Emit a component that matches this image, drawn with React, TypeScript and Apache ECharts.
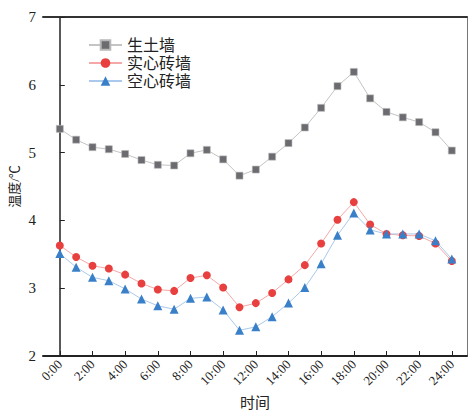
import React, { useEffect, useRef } from "react";
import * as echarts from "echarts";

const hours = [0, 1, 2, 3, 4, 5, 6, 7, 8, 9, 10, 11, 12, 13, 14, 15, 16, 17, 18, 19, 20, 21, 22, 23, 24];
const tickHours = [0, 2, 4, 6, 8, 10, 12, 14, 16, 18, 20, 22, 24];
const seriesNames = ["生土墙", "实心砖墙", "空心砖墙"];
const earthWall = [5.35, 5.19, 5.08, 5.05, 4.98, 4.89, 4.82, 4.81, 4.99, 5.04, 4.9, 4.66, 4.75, 4.94, 5.14, 5.37, 5.66, 5.98, 6.19, 5.8, 5.6, 5.52, 5.45, 5.3, 5.03];
const solidBrick = [3.63, 3.46, 3.33, 3.29, 3.2, 3.07, 2.98, 2.96, 3.15, 3.19, 3.01, 2.72, 2.78, 2.93, 3.13, 3.34, 3.66, 4.01, 4.27, 3.94, 3.8, 3.78, 3.77, 3.66, 3.4];
const hollowBrick = [3.51, 3.31, 3.16, 3.11, 2.99, 2.84, 2.74, 2.69, 2.85, 2.87, 2.68, 2.38, 2.43, 2.58, 2.78, 3.01, 3.36, 3.78, 4.11, 3.86, 3.8, 3.8, 3.8, 3.7, 3.43];

const serif = "'Liberation Serif', 'Noto Sans CJK SC', serif";

export default function App() {
  const ref = useRef<HTMLDivElement>(null);
  useEffect(() => {
    document.body.style.margin = "0";
    const chart = echarts.init(ref.current!, undefined, { renderer: "svg" });
    const pair = (vals: number[]) => hours.map((h, i) => [h, vals[i]]);
    chart.setOption({
      animation: false,
      textStyle: { fontFamily: serif },
      grid: { left: 43, right: 1, top: 17, bottom: 54, containLabel: false, outerBoundsMode: "none" },
      legend: {
        orient: "vertical",
        left: 83,
        top: 31,
        itemWidth: 33,
        itemHeight: 12,
        itemGap: 0,
        textStyle: { fontSize: 16, lineHeight: 18, color: "#222", fontFamily: serif },
        data: seriesNames,
      },
      xAxis: [
        {
          type: "value",
          min: -1.03,
          max: 24.93,
          name: "时间",
          nameLocation: "middle",
          nameGap: 39,
          nameMoveOverlap: false,
          nameTextStyle: { fontSize: 15, color: "#222", fontFamily: serif },
          splitLine: { show: false },
          axisLine: { show: true, lineStyle: { color: "#222", width: 2 } },
          axisTick: { show: true, inside: true, length: 5, customValues: tickHours, lineStyle: { color: "#222", width: 1 } },
          axisLabel: {
            customValues: tickHours,
            rotate: 45,
            fontSize: 13,
            color: "#222",
            fontFamily: serif,
            margin: 6,
            formatter: (v: number) => `${v}:00`,
          },
        },
        {
          type: "value",
          position: "top",
          min: -1.03,
          max: 24.93,
          splitLine: { show: false },
          axisLine: { show: true, onZero: false, lineStyle: { color: "#333", width: 2 } },
          axisTick: { show: false },
          axisLabel: { show: false },
        },
      ],
      yAxis: [
        {
          type: "value",
          min: 2,
          max: 7,
          interval: 1,
          name: "温度/℃",
          nameLocation: "middle",
          nameGap: 22,
          nameMoveOverlap: false,
          nameTextStyle: { fontSize: 13, color: "#222", fontFamily: serif },
          splitLine: { show: false },
          axisLine: { show: true, lineStyle: { color: "#222", width: 1.5 } },
          axisTick: { show: true, inside: true, length: 5, lineStyle: { color: "#222" } },
          axisLabel: { fontSize: 15, color: "#222", fontFamily: serif, margin: 7 },
        },
        {
          type: "value",
          position: "right",
          min: 2,
          max: 7,
          interval: 1,
          splitLine: { show: false },
          axisLine: { show: true, onZero: false, lineStyle: { color: "#777", width: 1 } },
          axisTick: { show: false },
          axisLabel: { show: false },
        },
      ],
      series: [
        {
          name: seriesNames[0],
          type: "line",
          data: pair(earthWall),
          symbol: "rect",
          symbolSize: 7,
          lineStyle: { color: "#c4c4c4", width: 1 },
          itemStyle: { color: "#6b6b70", borderColor: "#b8b8b8", borderWidth: 0.6 },
          emphasis: { disabled: true },
        },
        {
          name: seriesNames[1],
          type: "line",
          data: pair(solidBrick),
          symbol: "circle",
          symbolSize: 8,
          lineStyle: { color: "#f5a8a8", width: 1 },
          itemStyle: { color: "#e8403f" },
          emphasis: { disabled: true },
        },
        {
          name: seriesNames[2],
          type: "line",
          data: pair(hollowBrick),
          symbol: "triangle",
          symbolSize: 9,
          lineStyle: { color: "#aac9ec", width: 1 },
          itemStyle: { color: "#3a80c9" },
          emphasis: { disabled: true },
        },
      ],
    });
    return () => chart.dispose();
  }, []);
  return <div ref={ref} style={{ width: 468, height: 410 }} />;
}
